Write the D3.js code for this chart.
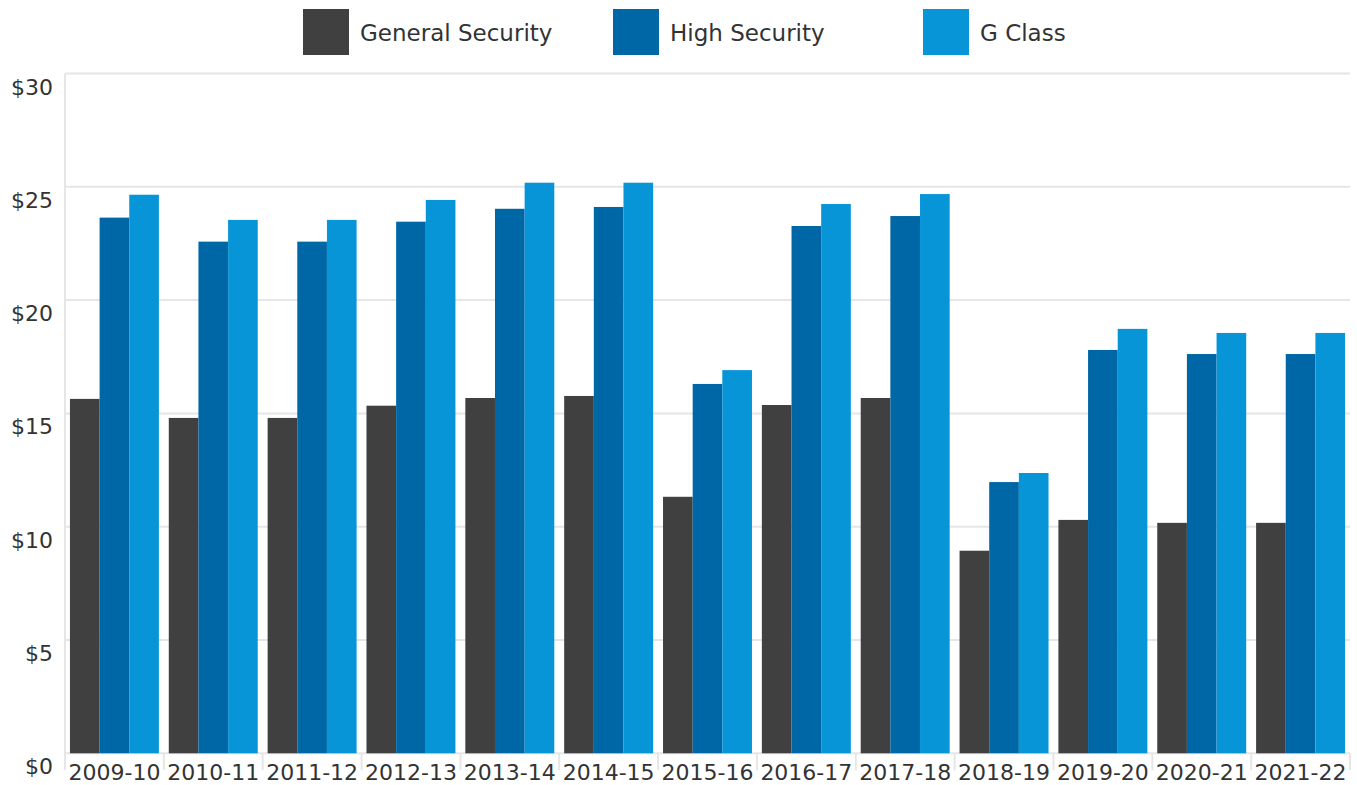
<!DOCTYPE html>
<html>
<head>
<meta charset="utf-8">
<script src="https://cdn.jsdelivr.net/npm/d3@7"></script>
<style>
  html, body { margin: 0; padding: 0; background: #fff; }
  svg { display: block; font-family: "DejaVu Sans", sans-serif; }
</style>
</head>
<body>
<svg id="chart" width="1357" height="785"></svg>
<script>
// Fiscal years shown along the x axis
const categories = ["2009-10", "2010-11", "2011-12", "2012-13", "2013-14", "2014-15", "2015-16",
  "2016-17", "2017-18", "2018-19", "2019-20", "2020-21", "2021-22"];

// Series names and their values (dollars)
const seriesNames = ["General Security", "High Security", "G Class"];
const generalSecurity = [15.64, 14.80, 14.80, 15.34, 15.68, 15.77, 11.32, 15.37, 15.68, 8.94, 10.30, 10.17, 10.17];
const highSecurity    = [23.64, 22.58, 22.58, 23.46, 24.03, 24.11, 16.30, 23.27, 23.71, 11.97, 17.80, 17.62, 17.62];
const gClass          = [24.65, 23.54, 23.54, 24.42, 25.18, 25.18, 16.91, 24.24, 24.68, 12.37, 18.73, 18.55, 18.55];

// Y axis ticks
const yTicks = [0, 5, 10, 15, 20, 25, 30];

const seriesValues = [generalSecurity, highSecurity, gClass];
const colors = ["#404040", "#0067a6", "#0795d8"];

const svg = d3.select("#chart");
const plotLeft = 65, plotRight = 1350, plotTop = 73.5, plotBottom = 753.3;

const x = d3.scaleBand().domain(categories).range([plotLeft, plotRight]).paddingInner(0.1).paddingOuter(0.05);
const xs = d3.scaleBand().domain(seriesNames).range([0, x.bandwidth()]).padding(0);
const y = d3.scaleLinear().domain([0, 30]).range([plotBottom, plotTop]);
const color = d3.scaleOrdinal().domain(seriesNames).range(colors);

// Horizontal gridlines
svg.append("g")
  .selectAll("line")
  .data(yTicks)
  .join("line")
  .attr("x1", plotLeft).attr("x2", plotRight)
  .attr("y1", d => y(d)).attr("y2", d => y(d))
  .attr("stroke", "#e6e6e6").attr("stroke-width", 2);

// Left axis line
svg.append("line")
  .attr("x1", plotLeft).attr("x2", plotLeft)
  .attr("y1", plotTop).attr("y2", plotBottom + 17)
  .attr("stroke", "#e6e6e6").attr("stroke-width", 2);

// Y tick labels
svg.append("g")
  .selectAll("text")
  .data(yTicks)
  .join("text")
  .attr("x", 53)
  .attr("y", d => y(d) + 21)
  .attr("text-anchor", "end")
  .attr("font-size", 22)
  .attr("fill", "#333")
  .text(d => "$" + d);

// Category boundary ticks below the baseline
const bounds = categories.map(c => x(c) - x.step() * x.paddingInner() / 2).concat([plotRight]);
svg.append("g")
  .selectAll("line")
  .data(bounds.slice(1))
  .join("line")
  .attr("x1", d => d).attr("x2", d => d)
  .attr("y1", plotBottom).attr("y2", plotBottom + 17)
  .attr("stroke", "#e6e6e6").attr("stroke-width", 2);

// Bars
const groups = svg.append("g")
  .selectAll("g")
  .data(categories)
  .join("g")
  .attr("transform", c => `translate(${x(c)},0)`);

groups.selectAll("rect")
  .data((c, i) => seriesNames.map((s, k) => ({ s, v: seriesValues[k][i] })))
  .join("rect")
  .attr("x", d => xs(d.s))
  .attr("width", xs.bandwidth())
  .attr("y", d => y(d.v))
  .attr("height", d => y(0) - y(d.v))
  .attr("fill", d => color(d.s));

// X tick labels
svg.append("g")
  .selectAll("text")
  .data(categories)
  .join("text")
  .attr("x", c => x(c) + x.bandwidth() / 2)
  .attr("y", 780)
  .attr("text-anchor", "middle")
  .attr("font-size", 22)
  .attr("fill", "#333")
  .text(c => c);

// Legend
const legendX = [303, 613, 923];
const legend = svg.append("g")
  .selectAll("g")
  .data(seriesNames)
  .join("g")
  .attr("transform", (d, i) => `translate(${legendX[i]},9)`);
legend.append("rect")
  .attr("width", 46).attr("height", 46)
  .attr("fill", d => color(d));
legend.append("text")
  .attr("x", 57).attr("y", 32)
  .attr("font-size", 23)
  .attr("fill", "#333")
  .text(d => d);
</script>
</body>
</html>
